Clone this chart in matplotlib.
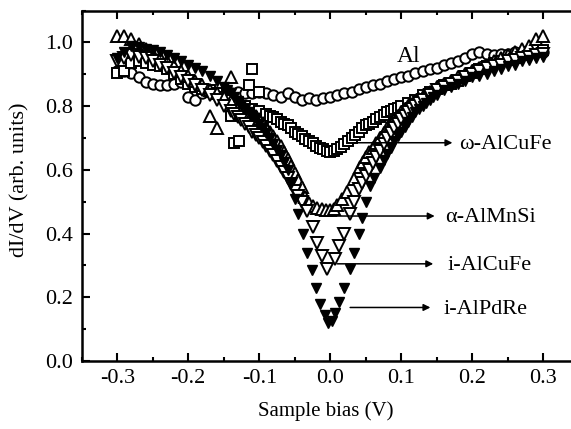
import numpy as np
import matplotlib
matplotlib.use("Agg")
import matplotlib.pyplot as plt
from matplotlib.ticker import MultipleLocator

plt.rcParams['font.family'] = ['Liberation Serif', 'DejaVu Serif']

# --- data (sample bias in V, dI/dV in arb. units) ---
bias_grid = np.round(np.arange(-0.30, 0.3001, 0.01), 2)

al_y = [0.91, 0.91, 0.905, 0.89, 0.875, 0.87, 0.865, 0.865, 0.87, 0.875,
        0.83, 0.82, 0.84, 0.845, 0.84, 0.835, 0.84, 0.845, 0.84, 0.84,
        0.845, 0.84, 0.835, 0.83, 0.84, 0.83, 0.82, 0.825, 0.82, 0.825,
        0.83, 0.835, 0.84, 0.845, 0.855, 0.86, 0.865, 0.87, 0.88, 0.885,
        0.89, 0.895, 0.905, 0.91, 0.915, 0.92, 0.93, 0.935, 0.94, 0.95,
        0.965, 0.97, 0.965, 0.96, 0.965, 0.965, 0.97, 0.965, 0.97, 0.975, 0.97]

# omega-AlCuFe (open squares)
w_y = [0.905, 0.91, 0.935, 0.94, 0.935, 0.93, 0.925, 0.915, 0.90, 0.885,
       0.87, 0.86, 0.855, 0.85, 0.84, 0.83, 0.82, 0.81, 0.80, 0.79,
       0.785, 0.775, 0.765, 0.75, 0.74, 0.72, 0.705, 0.69, 0.675, 0.665,
       0.655, 0.665, 0.68, 0.70, 0.72, 0.74, 0.75, 0.765, 0.78, 0.79,
       0.80, 0.81, 0.82, 0.835, 0.845, 0.855, 0.865, 0.87, 0.88, 0.895,
       0.905, 0.915, 0.925, 0.935, 0.94, 0.945, 0.95, 0.96, 0.97, 0.975, 0.975]
w_mid_x = [-0.085, -0.075, -0.065, -0.055, -0.045, -0.035, -0.025, -0.015,
           -0.005, 0.005, 0.015, 0.025, 0.035, 0.045, 0.055, 0.065, 0.075,
           0.085, 0.095]
w_mid_y = [0.77, 0.758, 0.745, 0.73, 0.712, 0.698, 0.683, 0.67,
           0.66, 0.658, 0.672, 0.69, 0.71, 0.73, 0.745, 0.758, 0.772,
           0.785, 0.795]
w_out_x = [-0.14, -0.135, -0.128, -0.12, -0.115, -0.11, -0.10]
w_out_y = [0.77, 0.685, 0.69, 0.775, 0.865, 0.915, 0.845]

# alpha-AlMnSi (open up triangles)
a_x = list(np.round(np.arange(-0.30, -0.0499, 0.01), 2)) + \
      [-0.04, -0.035, -0.03, -0.024, -0.018, -0.012, -0.006, 0.0, 0.005,
       0.01, 0.017, 0.023, 0.033, 0.042] + \
      list(np.round(np.arange(0.05, 0.3001, 0.01), 2))
a_y = [1.02, 1.02, 1.01, 0.995, 0.98, 0.965, 0.955, 0.94, 0.925, 0.91,
       0.895, 0.88, 0.865, 0.85, 0.84, 0.83, 0.815, 0.80, 0.79, 0.775,
       0.76, 0.735, 0.705, 0.675, 0.635, 0.59,
       0.545, 0.515, 0.495, 0.485, 0.48, 0.478, 0.475, 0.475, 0.478,
       0.49, 0.51, 0.53, 0.57, 0.61,
       0.64, 0.67, 0.70, 0.73, 0.755, 0.78, 0.80, 0.815, 0.83, 0.845,
       0.86, 0.87, 0.88, 0.89, 0.90, 0.91, 0.92, 0.93, 0.94, 0.95,
       0.96, 0.97, 0.98, 0.99, 1.01, 1.02]
a_mid_x = [-0.125, -0.115, -0.105, -0.095, -0.085, -0.075, -0.065, -0.055,
           -0.045, 0.046, 0.055, 0.065, 0.075, 0.085, 0.095, 0.105, 0.115,
           0.125]
a_mid_y = [0.795, 0.783, 0.768, 0.748, 0.72, 0.69, 0.655, 0.613,
           0.568, 0.625, 0.655, 0.685, 0.715, 0.743, 0.768, 0.79, 0.808,
           0.823]
a_out_x = [-0.17, -0.16, -0.14]
a_out_y = [0.77, 0.73, 0.89]

# i-AlCuFe (open down triangles)
icf_x = list(np.round(np.arange(-0.30, -0.0399, 0.01), 2)) + \
        [-0.033, -0.024, -0.019, -0.012, -0.005, 0.007, 0.013, 0.02,
         0.028, 0.033, 0.04] + \
        list(np.round(np.arange(0.05, 0.3001, 0.01), 2))
icf_y = [0.94, 0.95, 0.96, 0.955, 0.95, 0.94, 0.93, 0.92, 0.905, 0.89,
         0.88, 0.865, 0.85, 0.835, 0.82, 0.80, 0.785, 0.765, 0.745, 0.72,
         0.70, 0.675, 0.645, 0.61, 0.575, 0.535, 0.50,
         0.47, 0.42, 0.37, 0.33, 0.29, 0.32, 0.36, 0.40, 0.46, 0.50, 0.54,
         0.58, 0.62, 0.66, 0.70, 0.73, 0.76, 0.78, 0.80, 0.82, 0.835,
         0.85, 0.86, 0.87, 0.88, 0.89, 0.90, 0.91, 0.92, 0.925, 0.93,
         0.94, 0.945, 0.95, 0.955, 0.96, 0.965]
icf_mid_x = [-0.135, -0.125, -0.115, -0.105, -0.095, -0.085, -0.075, -0.065,
             -0.055, -0.045, 0.045, 0.055, 0.065, 0.075, 0.085, 0.095, 0.105,
             0.115, 0.125]
icf_mid_y = [0.775, 0.755, 0.733, 0.71, 0.688, 0.66, 0.628, 0.593,
             0.555, 0.518, 0.56, 0.60, 0.64, 0.68, 0.715, 0.745, 0.77,
             0.79, 0.81]

# i-AlPdRe (filled down triangles)
ipr_x = list(np.round(np.arange(-0.30, -0.0599, 0.01), 2)) + \
        [-0.055, -0.05, -0.045, -0.038, -0.033, -0.026, -0.02, -0.015,
         -0.008, -0.003, 0.003, 0.007, 0.013, 0.02, 0.028, 0.033, 0.04,
         0.045, 0.05, 0.056, 0.062] + \
        list(np.round(np.arange(0.07, 0.3001, 0.01), 2))
ipr_y = [0.95, 0.97, 0.99, 0.985, 0.98, 0.975, 0.97, 0.96, 0.95, 0.94,
         0.93, 0.92, 0.91, 0.895, 0.88, 0.86, 0.84, 0.815, 0.79, 0.77,
         0.745, 0.715, 0.68, 0.645, 0.60,
         0.56, 0.51, 0.46, 0.40, 0.34, 0.285, 0.23, 0.18, 0.145, 0.12,
         0.125, 0.15, 0.185, 0.23, 0.29, 0.34, 0.40, 0.45, 0.50, 0.55, 0.575,
         0.605, 0.65, 0.69, 0.72, 0.75, 0.78, 0.80, 0.82, 0.835, 0.85,
         0.86, 0.87, 0.88, 0.89, 0.895, 0.90, 0.91, 0.915, 0.925, 0.93,
         0.94, 0.945, 0.95, 0.955]
ipr_mid_x = [-0.145, -0.135, -0.125, -0.115, -0.105, -0.095, -0.085, -0.075,
             -0.065, 0.075, 0.085, 0.095, 0.105, 0.115, 0.125, 0.135, 0.145]
ipr_mid_y = [0.85, 0.828, 0.803, 0.78, 0.758, 0.73, 0.70, 0.663,
             0.625, 0.63, 0.67, 0.705, 0.735, 0.765, 0.79, 0.81, 0.828]

labels = ['ω-AlCuFe', 'α-AlMnSi', 'i-AlCuFe', 'i-AlPdRe']
label_y = [0.685, 0.455, 0.305, 0.168]
label_x = [0.181, 0.162, 0.165, 0.159]
arrow_x0 = [0.032, 0.01, 0.01, 0.028]
arrow_x1 = [0.172, 0.147, 0.145, 0.141]


def merged(xs, ys, mx, my):
    x = np.array(list(xs) + list(mx))
    y = np.array(list(ys) + list(my))
    order = np.argsort(x)
    return x[order], y[order]


# --- figure ---
fig = plt.figure(figsize=(5.71, 4.29), dpi=100)
ax = fig.add_axes([0.1431, 0.1585, 0.8706, 0.817])

open_kw = dict(linestyle='none', markerfacecolor='white',
               markeredgecolor='black', markeredgewidth=1.4)

ax.plot(bias_grid, al_y, marker='o', markersize=7.5, **open_kw)
wx, wy = merged(bias_grid, w_y, w_mid_x, w_mid_y)
ax.plot(wx, wy, marker='s', markersize=6.5, **open_kw)
ax.plot(w_out_x, w_out_y, marker='s', markersize=6.5, **open_kw)
ax_, ay_ = merged(a_x, a_y, a_mid_x, a_mid_y)
ax.plot(ax_, ay_, marker='^', markersize=8, **open_kw)
ax.plot(a_out_x, a_out_y, marker='^', markersize=8, **open_kw)
cx, cy = merged(icf_x, icf_y, icf_mid_x, icf_mid_y)
ax.plot(cx, cy, marker='v', markersize=8, **open_kw)
px, py = merged(ipr_x, ipr_y, ipr_mid_x, ipr_mid_y)
ax.plot(px, py, marker='v', markersize=7.5, linestyle='none', color='black')

ax.text(0.11, 0.955, 'Al', fontsize=17, ha='center', va='center')
for lab, yy, tx, x0, x1 in zip(labels, label_y, label_x, arrow_x0, arrow_x1):
    ax.annotate('', xy=(x1, yy), xytext=(x0, yy),
                arrowprops=dict(arrowstyle='-|>', color='black', lw=1.1,
                                mutation_scale=10, shrinkA=0, shrinkB=0))
    ax.text(tx, yy - 0.005, lab, fontsize=16, ha='left', va='center')

ax.set_xlim(-0.35, 0.35)
ax.set_ylim(0.0, 1.1)
ax.xaxis.set_minor_locator(MultipleLocator(0.05))
ax.yaxis.set_minor_locator(MultipleLocator(0.1))
ax.set_xticks([-0.3, -0.2, -0.1, 0.0, 0.1, 0.2, 0.3])
ax.set_xticklabels(['-0.3', '-0.2', '-0.1', '0.0', '0.1', '0.2', '0.3'])
ax.set_yticks([0.0, 0.2, 0.4, 0.6, 0.8, 1.0])
ax.set_yticklabels(['0.0', '0.2', '0.4', '0.6', '0.8', '1.0'])
ax.tick_params(which='both', direction='in', top=True, right=True,
               labelsize=16, width=1.5)
ax.tick_params(which='major', length=6, pad=6)
ax.tick_params(which='minor', length=3)
for sp in ax.spines.values():
    sp.set_linewidth(1.8)

ax.set_xlabel('Sample bias (V)', fontsize=15)
ax.set_ylabel('dI/dV (arb. units)', fontsize=16)
ax.xaxis.set_label_coords(0.49, -0.115)
ax.yaxis.set_label_coords(-0.106, 0.516)

fig.savefig('out.png', dpi=100)
